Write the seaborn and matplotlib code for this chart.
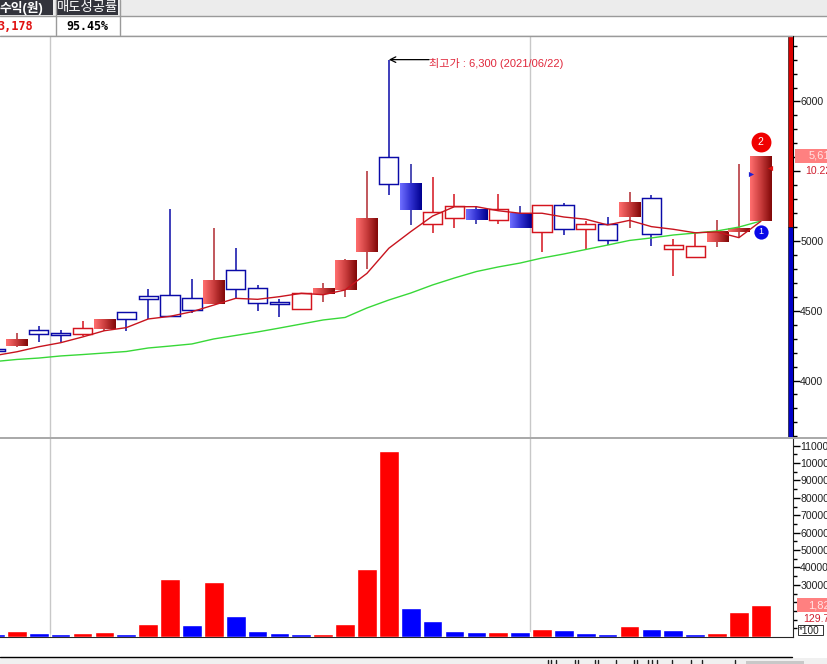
import numpy as np
import pandas as pd
import matplotlib
matplotlib.use('Agg')
import matplotlib.pyplot as plt
from matplotlib.colors import LinearSegmentedColormap
from matplotlib.patches import Rectangle
import seaborn as sns

# price candles, left to right (first one is cut off by the window)
body_top = [4229, 4298, 4360, 4337, 4374, 4441, 4489, 4604, 4611, 4589, 4720, 4790,
            4661, 4561, 4625, 4656, 4864, 5158, 5600, 5409, 5206, 5249, 5229, 5227,
            5194, 5256, 5256, 5120, 5120, 5275, 5306, 4969, 4962, 5072, 5091, 5610]
body_bot = [4215, 4250, 4331, 4328, 4331, 4371, 4439, 4586, 4460, 4503, 4551, 4654,
            4553, 4551, 4515, 4618, 4651, 4921, 5406, 5222, 5124, 5167, 5151, 5153,
            5093, 5062, 5088, 5088, 5009, 5174, 5048, 4945, 4887, 4995, 5065, 5146]
high = [4235, 4338, 4389, 4362, 4427, 4441, 4489, 4656, 5229, 4728, 5091, 4950,
        4685, 4582, 4625, 4697, 4873, 5502, 6300, 5552, 5457, 5337, 5251, 5337,
        5251, 5256, 5272, 5143, 5172, 5349, 5330, 5014, 5055, 5148, 5552, 5610]
low = [4210, 4242, 4278, 4274, 4319, 4357, 4357, 4439, 4460, 4482, 4551, 4589,
       4500, 4457, 4508, 4563, 4601, 4799, 5332, 5117, 5059, 5095, 5124, 5124,
       5093, 4923, 5045, 4941, 4969, 5095, 4966, 4751, 4880, 4959, 5029, 5146]
candle_color = ['b', 'r', 'b', 'b', 'r', 'r', 'b', 'b', 'b', 'b', 'r', 'b',
                'b', 'b', 'r', 'r', 'r', 'r', 'b', 'b', 'r', 'r', 'b', 'r',
                'b', 'r', 'b', 'r', 'b', 'r', 'b', 'r', 'r', 'r', 'r', 'r']
candle_filled = [0, 1, 0, 0, 0, 1, 0, 0, 0, 0, 1, 0,
                 0, 0, 0, 1, 1, 1, 0, 1, 0, 0, 1, 0,
                 1, 0, 0, 0, 0, 1, 0, 0, 0, 1, 1, 1]

ma_short = [4179, 4206, 4242, 4271, 4312, 4357, 4379, 4441, 4460, 4493, 4541, 4589,
            4582, 4601, 4625, 4615, 4649, 4768, 4948, 5067, 5179, 5246, 5246, 5217,
            5199, 5199, 5172, 5156, 5115, 5148, 5103, 5084, 5059, 5065, 5024, 5141]
ma_long = [4136, 4151, 4161, 4176, 4186, 4197, 4208, 4233, 4247, 4262, 4298, 4323,
           4348, 4376, 4405, 4434, 4452, 4520, 4577, 4627, 4685, 4735, 4781, 4814,
           4842, 4878, 4907, 4939, 4971, 5004, 5022, 5043, 5057, 5072, 5100, 5143]

volume = [1700, 3400, 2300, 1700, 2300, 2900, 1700, 7500, 33300, 6900, 31600, 12100,
          3400, 2300, 1700, 1700, 7500, 39100, 106900, 16700, 9200, 3400, 2900, 2900,
          2900, 4600, 4000, 2300, 1700, 6300, 4600, 4000, 1700, 2300, 14400, 18400]
volume_color = ['b', 'r', 'b', 'b', 'r', 'r', 'b', 'r', 'r', 'b', 'r', 'b',
                'b', 'b', 'b', 'r', 'r', 'r', 'r', 'b', 'b', 'b', 'b', 'r',
                'b', 'r', 'b', 'b', 'b', 'r', 'b', 'b', 'b', 'r', 'r', 'r']

price_ticks = [4000, 4500, 5000, 5500, 6000]
price_labels = ['4000', '4500', '5000', '', '6000']
volume_ticks = [110000, 100000, 90000, 80000, 70000, 60000, 50000, 40000, 30000]

sns.set_style('white')
plt.rcParams['font.family'] = ['Liberation Sans', 'Noto Sans CJK KR']

W, H = 827, 664
STEP = 21.88
RED_LINE = '#d4141e'
BLUE_LINE = '#0a0aa8'
red_grad = LinearSegmentedColormap.from_list('rg', ['#ff6e6e', '#c83c3c', '#820808'])
blue_grad = LinearSegmentedColormap.from_list('bg', ['#6e6eff', '#3030d0', '#000090'])
grad = np.linspace(0, 1, 32).reshape(1, -1)

fig = plt.figure(figsize=(W / 100, H / 100), dpi=100, facecolor='white')

# window furniture around the chart, in screen pixels
chrome = fig.add_axes([0, 0, 1, 1], zorder=0)
chrome.set_xlim(0, W)
chrome.set_ylim(H, 0)
chrome.axis('off')
chrome.add_patch(Rectangle((0, 0), W, 16, color='#ececec', lw=0))
chrome.add_patch(Rectangle((0, 0), 53, 15, color='#33343c', lw=0))
chrome.add_patch(Rectangle((57, 0), 61, 15, color='#33343c', lw=0))
chrome.plot([0, W], [16, 16], color='#9a9a9a', lw=1)
chrome.plot([0, W], [35.5, 35.5], color='#9a9a9a', lw=1)
chrome.plot([55.5, 55.5], [0, 35], color='#9a9a9a', lw=1)
chrome.plot([119.5, 119.5], [0, 35], color='#9a9a9a', lw=1)
chrome.text(43, 8, '수익(원)', color='white', fontsize=9.2, fontweight='bold', ha='right', va='center')
chrome.text(87.5, 8, '매도성공률', color='white', fontsize=9.6, ha='center', va='center')
chrome.text(32.5, 26, '3,178', color='#e01010', fontsize=8.6, fontweight='bold',
            family='DejaVu Sans Mono', ha='right', va='center')
chrome.text(87.5, 26, '95.45%', color='black', fontsize=8.4, fontweight='bold',
            family='DejaVu Sans Mono', ha='center', va='center')
chrome.plot([0, 792], [657, 657], color='black', lw=1)
chrome.add_patch(Rectangle((0, 658), W, 6, color='#f0f0f0', lw=0))
chrome.add_patch(Rectangle((746, 661), 58, 3, color='#c8c8c8', lw=0))
for gx in [548, 551, 556, 575, 578, 595, 598, 616, 634, 637, 648, 652, 657, 672, 691, 702, 735]:
    chrome.plot([gx, gx], [660, 664], color='#202020', lw=1)

left = 0
right = 792.5
ax = fig.add_axes([left, (H - 437) / H, (right - left) / W, (437 - 36) / H], zorder=2)
ax_v = fig.add_axes([left, (H - 637) / H, (right - left) / W, (637 - 438) / H], zorder=2)
xlim = (5 / STEP, (right + 5) / STEP)

idx = list(range(len(body_top)))
ma_df = pd.DataFrame({'x': idx, 'short': ma_short, 'long': ma_long})
vol_df = pd.DataFrame({'x': idx, 'volume': volume, 'side': volume_color})

for a in (ax, ax_v):
    a.axvline(2.51, color='#c8c8c8', lw=1, zorder=1)
    a.axvline(24.47, color='#c8c8c8', lw=1, zorder=1)

for i in idx:
    line_c = RED_LINE if candle_color[i] == 'r' else BLUE_LINE
    if candle_filled[i]:
        line_c = '#b02a30' if candle_color[i] == 'r' else '#1c1ca0'
    ax.vlines(i, low[i], high[i], color=line_c, lw=1.1, zorder=2)
    if candle_filled[i]:
        cm = red_grad if candle_color[i] == 'r' else blue_grad
        ax.imshow(grad, cmap=cm, aspect='auto', zorder=3, interpolation='bilinear',
                  extent=(i - 0.48, i + 0.48, body_bot[i], body_top[i]))
    else:
        ax.bar(i, body_top[i] - body_bot[i], bottom=body_bot[i], width=0.88,
               facecolor='white', edgecolor=line_c, lw=1.05, zorder=3)

sns.lineplot(data=ma_df, x='x', y='long', color='#38d838', lw=1.0, ax=ax, zorder=4, errorbar=None)
sns.lineplot(data=ma_df, x='x', y='short', color='#c8141e', lw=1.0, ax=ax, zorder=5, errorbar=None)

ax.scatter([35], [5710], s=205, color='#f00000', zorder=6, lw=0)
ax.text(35, 5710, '2', color='white', fontsize=7.5, ha='center', va='center', zorder=7)
ax.scatter([35], [5065], s=105, color='#0808e8', zorder=6, lw=0)
ax.text(35, 5065, '1', color='white', fontsize=6.5, ha='center', va='center', zorder=7)
ax.scatter([34.57], [5480], s=14, marker='>', color='#2020d0', zorder=6, lw=0)
ax.scatter([35.42], [5523], s=14, marker='<', color='#e81010', zorder=6, lw=0)

# arrow from the label back to the top of the highest wick
ax.annotate('', xy=(18, 6300), xytext=(29, 0), textcoords='offset points',
            arrowprops=dict(arrowstyle='->', color='black', lw=0.9, shrinkA=0, shrinkB=0))
ax.annotate('최고가 : 6,300 (2021/06/22)', xy=(18, 6300), xytext=(29, -2.5), textcoords='offset points',
            color='#e0283c', fontsize=8.0, va='center', ha='left')

ax.set_xlim(xlim)
ax.set_ylim(5000 - 196 * 7.168, 5000 + 205 * 7.168)
ax.yaxis.tick_right()
ax.set_yticks(price_ticks, labels=price_labels, fontsize=7.6)
ax.set_yticks(np.arange(3600, 6500, 100), minor=True)
ax.tick_params(axis='y', which='major', length=5, width=1, color='black', pad=0.5, right=True, labelcolor='#202020')
ax.tick_params(axis='y', which='minor', length=3, width=1, color='black', right=True)
ax.set_xticks([])
ax.set_xlabel('')
ax.set_ylabel('')
for s in ['top', 'left', 'bottom']:
    ax.spines[s].set_visible(False)
ax.spines['right'].set_color('black')
# current-price strip on the scale
strip_x = 788 / right
y_top = ax.get_ylim()[1]
y_bot = ax.get_ylim()[0]
ax.add_patch(Rectangle((strip_x, 5100), 1 - strip_x, y_top - 5100, transform=ax.get_yaxis_transform(),
                       facecolor='#d80000', edgecolor='black', lw=0.4, zorder=8, clip_on=True))
ax.add_patch(Rectangle((strip_x, y_bot), 1 - strip_x, 5100 - y_bot, transform=ax.get_yaxis_transform(),
                       facecolor='#0000c8', edgecolor='black', lw=0.4, zorder=8, clip_on=True))

sns.barplot(data=vol_df, x='x', y='volume', hue='side', palette={'r': '#ff0000', 'b': '#0000ff'},
            dodge=False, width=0.9, legend=False, ax=ax_v, saturation=1, zorder=3)
ax_v.set_xlim(xlim)
ax_v.set_ylim(0, 199 / 17.4 * 10000)
ax_v.yaxis.tick_right()
ax_v.set_yticks(volume_ticks, labels=[str(v) for v in volume_ticks], fontsize=7.6)
ax_v.set_yticks(np.arange(5000, 115000, 5000), minor=True)
ax_v.tick_params(axis='y', which='major', length=5, width=1, color='black', pad=0.5, right=True, labelcolor='#202020')
ax_v.tick_params(axis='y', which='minor', length=3, width=1, color='black', right=True)
ax_v.set_xticks([])
ax_v.set_xlabel('')
ax_v.set_ylabel('')
ax_v.patch.set_alpha(0)
for s in ['top', 'left']:
    ax_v.spines[s].set_visible(False)

# current value tags on the right scale, and the panel divider, on top of the axes
over = fig.add_axes([0, 0, 1, 1], zorder=3)
over.set_xlim(0, W)
over.set_ylim(H, 0)
over.axis('off')
over.plot([0, 792], [36, 36], color='#9a9a9a', lw=1)
over.plot([0, W], [437.5, 437.5], color='#a8a8a8', lw=1.4)
over.add_patch(Rectangle((795, 149), 32, 14, color='#ff8080', lw=0))
over.text(809, 156, '5,61', color='#ffe4e4', fontsize=8, va='center', ha='left')
over.text(805, 170.5, '10.22', color='#d02030', fontsize=7.6, va='center', ha='left')
over.add_patch(Rectangle((797, 598), 30, 14, color='#ff8080', lw=0))
over.text(808, 605, '1,82', color='#ffe4e4', fontsize=8, va='center', ha='left')
over.text(803, 619, '129.7', color='#d02030', fontsize=7.6, va='center', ha='left')
over.add_patch(Rectangle((797.5, 625), 25, 10, facecolor='white', edgecolor='#303030', lw=0.7))
over.text(799, 630.5, '*100', color='#202020', fontsize=7.2, va='center', ha='left')

fig.savefig('out.png', dpi=100)
